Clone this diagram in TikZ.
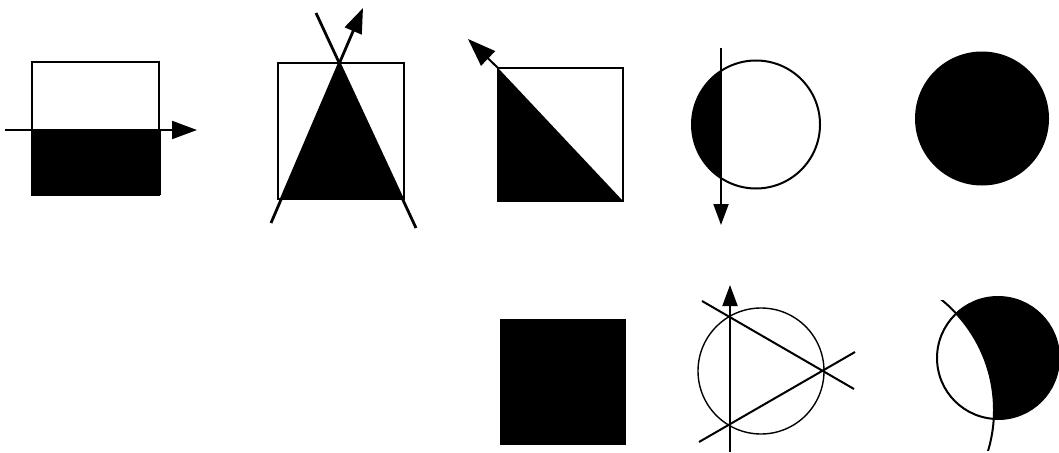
\documentclass[tikz,border=0pt]{standalone}
\usetikzlibrary{arrows.meta}
\begin{document}
\begin{tikzpicture}[x=1pt,y=-1pt,
  thinbox/.style={draw=black, line width=1.1pt},
  boldline/.style={draw=black, line width=2.8pt},
  midline/.style={draw=black, line width=2pt},
  bigtip/.style={-{Triangle[length=25pt,width=18pt]}},
  smalltip/.style={-{Triangle[length=21pt,width=15pt]}}]
  \useasboundingbox (0,0) rectangle (1059,452);

  % halved rectangle
  \coordinate (rA) at (32,62);
  \coordinate (rB) at (159,195);
  \fill (31,129) rectangle (161,195);
  \draw[thinbox] (rA) rectangle (rB);
  \coordinate (aS) at (5,130);
  \coordinate (aE) at (197,130);
  \draw[midline, bigtip] (aS) -- (aE);

  % triangle in rectangle
  \coordinate (tTop) at (339,63);
  \coordinate (tL) at (282,198);
  \coordinate (tR) at (403,198);
  \fill (tTop) -- (tL) -- (tR) -- cycle;
  \draw[thinbox] (278,63) rectangle (404,199);
  \coordinate (lS) at (271,223);
  \coordinate (lE) at (363,8);
  \coordinate (rS) at (316,13);
  \coordinate (rE) at (416,228);
  \draw[boldline, bigtip] (lS) -- (lE);
  \draw[boldline] (rS) -- (rE);

  % diagonal square
  \coordinate (sNW) at (498,68);
  \coordinate (sSE) at (623,201);
  \fill (sNW) -- (498,201) -- (sSE) -- cycle;
  \draw[thinbox] (sNW) rectangle (sSE);
  \coordinate (dE) at (468,39);
  \draw[midline, -{Triangle[length=28pt,width=20pt]}] (sNW) -- (dE);

  % circle with cut segment
  \coordinate (cA) at (756,124.5);
  \begin{scope}
    \clip (cA) circle (64);
    \fill (680,40) rectangle (721,200);
  \end{scope}
  \draw[midline] (cA) circle (64);
  \coordinate (vS) at (721,48);
  \coordinate (vE) at (721,225);
  \draw[midline, smalltip] (vS) -- (vE);

  % full disc
  \fill (982,118.5) circle (67);

  % full square
  \fill (500,319) rectangle (626,445);

  % circle with inscribed triangle
  \coordinate (cB) at (761,371);
  \draw[line width=1.4pt] (cB) circle (63);
  \coordinate (uS) at (730,452);
  \coordinate (uE) at (730,285);
  \draw[midline, smalltip] (uS) -- (uE);
  \coordinate (pS) at (702,301);
  \coordinate (pE) at (854,389);
  \coordinate (qS) at (699,442);
  \coordinate (qE) at (855,352);
  \draw[midline] (pS) -- (pE);
  \draw[midline] (qS) -- (qE);

  % crescent
  \coordinate (cC) at (998,358);
  \coordinate (cD) at (852,410);
  \fill (cC) circle (61);
  \begin{scope}
    \clip (cC) circle (61);
    \fill[white] (cD) circle (142);
  \end{scope}
  \draw[midline] (cC) circle (61);
  \begin{scope}
    \clip (935,300) rectangle (1000,450);
    \draw[midline] (cD) circle (142);
  \end{scope}
\end{tikzpicture}
\end{document}
